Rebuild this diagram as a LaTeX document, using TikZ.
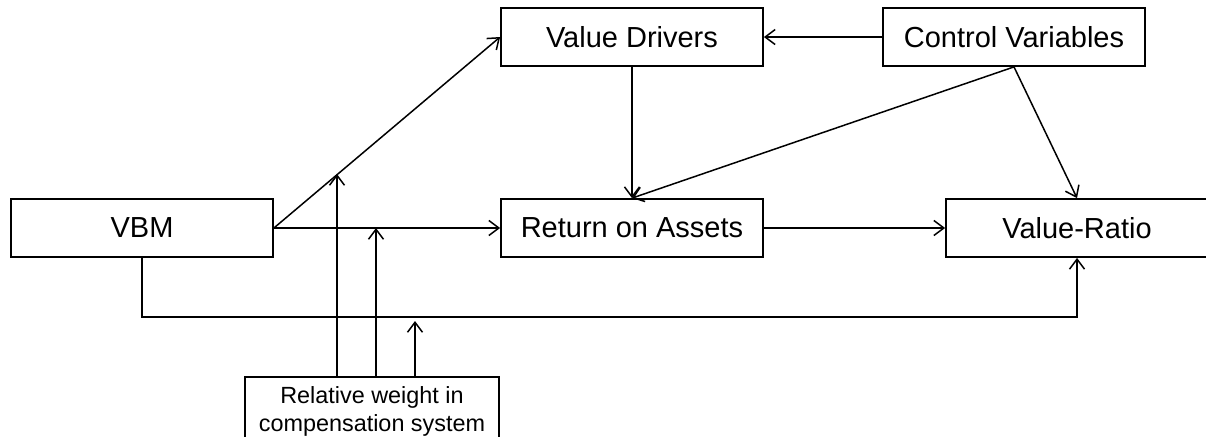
\documentclass[tikz,border=0pt]{standalone}
\usepackage{fontspec}
\setmainfont{Liberation Sans}
\usetikzlibrary{arrows.meta}
\usetikzlibrary{positioning}
\usetikzlibrary{calc}

\begin{document}
\begin{tikzpicture}[
    x=0.5pt, y=-0.5pt,
    line width=0.75pt,
    >={Straight Barb[length=5pt,width=7.5pt]},
    font=\fontsize{14.5}{17}\selectfont
]
\tikzset{
    box/.style = {rectangle, draw=black, line width=0.9pt, align=center,
                  minimum width=131pt, minimum height=29pt, inner sep=0pt},
    smallbox/.style = {box, minimum width=127pt, minimum height=34pt,
                  font=\fontsize{11.7}{14}\selectfont},
    edgen/.style = {->},
    linen/.style = {-}
}
\useasboundingbox (0,0) rectangle (1206,436);
\node[box] at (142,228)  (vbm) {VBM};
\node[box] at (632,37)   (vd)  {Value Drivers};
\node[box] at (1014,37)  (cv)  {Control Variables};
\node[box] at (632,228)  (roa) {Return on Assets};
\node[box] at (1077,228) (vr)  {Value-Ratio};
\node[smallbox] at (372,411) (rw) {Relative weight in\\compensation system};
\coordinate (t1) at (337,174);
\coordinate (t2) at (376,228);
\coordinate (t3) at (415,321);
\draw[edgen] (vbm.east) -- (vd.west);
\draw[edgen] (vbm.east) -- (roa.west);
\draw[edgen] (vbm.south) -- ++(0,59) -| (vr.south);
\draw[edgen] (cv.west) -- (vd.east);
\draw[edgen] (vd.south) -- (roa.north);
\draw[edgen] (cv.south) -- (roa.north);
\draw[edgen] (cv.south) -- (vr.north);
\draw[edgen] (roa.east) -- (vr.west);
\draw[edgen] (rw.north -| t1) -- (t1);
\draw[edgen] (rw.north -| t2) -- (t2);
\draw[edgen] (rw.north -| t3) -- (t3);
\end{tikzpicture}
\end{document}
